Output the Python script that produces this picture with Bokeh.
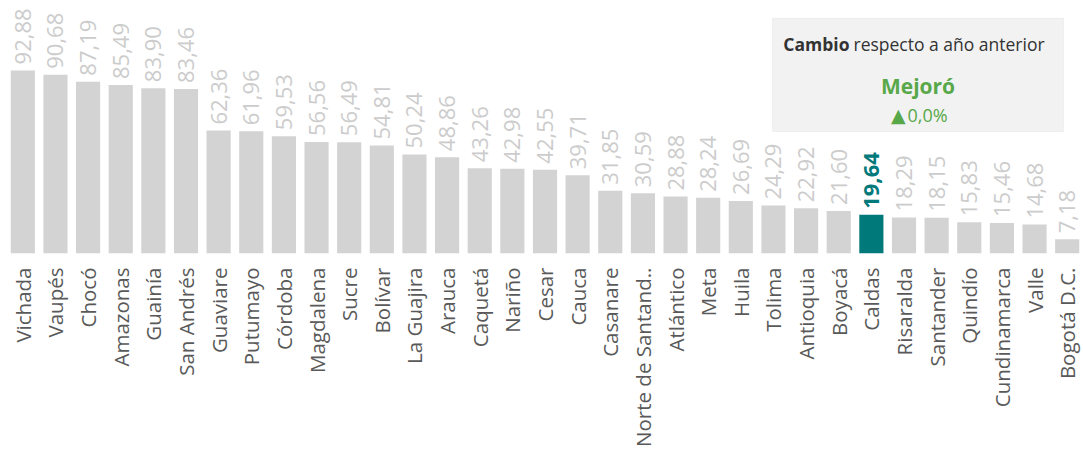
from math import pi
from bokeh.plotting import figure
from bokeh.models import ColumnDataSource, FactorRange, Range1d, BoxAnnotation, Label
from bokeh.core.properties import value
from bokeh.embed import file_html
from bokeh.resources import INLINE

departamentos = ["Vichada", "Vaupés", "Chocó", "Amazonas", "Guainía", "San Andrés",
                 "Guaviare", "Putumayo", "Córdoba", "Magdalena", "Sucre", "Bolívar",
                 "La Guajira", "Arauca", "Caquetá", "Nariño", "Cesar", "Cauca",
                 "Casanare", "Norte de Santand..", "Atlántico", "Meta", "Huila", "Tolima",
                 "Antioquia", "Boyacá", "Caldas", "Risaralda", "Santander", "Quindío",
                 "Cundinamarca", "Valle", "Bogotá D.C."]
valores = [92.88, 90.68, 87.19, 85.49, 83.90, 83.46, 62.36, 61.96, 59.53, 56.56,
           56.49, 54.81, 50.24, 48.86, 43.26, 42.98, 42.55, 39.71, 31.85, 30.59,
           28.88, 28.24, 26.69, 24.29, 22.92, 21.60, 19.64, 18.29, 18.15, 15.83,
           15.46, 14.68, 7.18]
destacado = "Caldas"
titulo_negrita = "Cambio"
titulo_resto = "respecto a año anterior"
estado = "Mejoró"
flecha = "▲"
cambio = "0,0%"

GRAY = "#D3D3D3"
TEAL = "#00797B"
GREEN = "#58A84A"

others = [(d, v) for d, v in zip(departamentos, valores) if d != destacado]
hi = [(d, v) for d, v in zip(departamentos, valores) if d == destacado]

src_o = ColumnDataSource(dict(x=[d for d, _ in others], top=[v for _, v in others],
                              lab=[f"{v:.2f}".replace(".", ",") for _, v in others]))
src_h = ColumnDataSource(dict(x=[d for d, _ in hi], top=[v for _, v in hi],
                              lab=[f"{v:.2f}".replace(".", ",") for _, v in hi]))

W, H = 1083, 449
LEFT, TOP, BOTTOM_Y = 6, 8, 257
frame_w = W - LEFT
frame_h = BOTTOM_Y - TOP
YMAX = 124.3

p = figure(width=W, height=H, x_range=FactorRange(*departamentos, range_padding=0),
           y_range=Range1d(0, YMAX), output_backend="svg", toolbar_location=None,
           y_axis_location=None, min_border_left=LEFT, min_border_right=0,
           min_border_top=TOP, min_border_bottom=H - BOTTOM_Y)
p.outline_line_color = None
p.xgrid.grid_line_color = None
p.ygrid.grid_line_color = None
p.background_fill_color = "white"
p.border_fill_color = "white"

p.vbar(x="x", top="top", width=0.74, source=src_o, color=GRAY, line_color=None)
p.vbar(x="x", top="top", width=0.74, source=src_h, color=TEAL, line_color=None)

p.text(x="x", y="top", text="lab", source=src_o, angle=pi / 2, text_align="left",
       text_baseline="middle", y_offset=-6, text_color="#CCCCCC",
       text_font=value("Open Sans"), text_font_size="22px")
p.text(x="x", y="top", text="lab", source=src_h, angle=pi / 2, text_align="left",
       text_baseline="middle", y_offset=-6, text_color=TEAL,
       text_font=value("Open Sans"), text_font_size="22px", text_font_style="bold")

ax = p.xaxis[0]
ax.axis_line_color = None
ax.major_tick_line_color = None
ax.minor_tick_line_color = None
ax.major_label_orientation = pi / 2
ax.major_label_standoff = 8
ax.major_label_text_font = "Open Sans"
ax.major_label_text_font_size = "20.5px"
ax.major_label_text_color = "#595959"

pitch = frame_w / len(departamentos)
def xd(absx):
    return (absx - LEFT) / pitch
def yd(absy):
    return (BOTTOM_Y - absy) / (frame_h / YMAX)

p.add_layout(BoxAnnotation(left=xd(772), right=xd(1063), top=yd(18), bottom=yd(133),
                           fill_color="#F2F2F2", fill_alpha=1.0,
                           line_color="#D9D9D9", line_width=1))
p.add_layout(Label(x=xd(849), y=yd(44), text=titulo_negrita, text_align="right",
                   text_baseline="middle", text_font="Open Sans", text_font_size="17.5px",
                   text_font_style="bold", text_color="#333333"))
p.add_layout(Label(x=xd(853), y=yd(44), text=titulo_resto, text_align="left",
                   text_baseline="middle", text_font="Open Sans", text_font_size="17.5px",
                   text_color="#333333"))
p.add_layout(Label(x=xd(917.5), y=yd(87), text=estado, text_align="center",
                   text_baseline="middle", text_font="Open Sans", text_font_size="21px",
                   text_font_style="bold", text_color=GREEN))
p.add_layout(Label(x=xd(905), y=yd(116), text=flecha, text_align="right",
                   text_baseline="middle", text_font="DejaVu Sans", text_font_size="19px",
                   text_color=GREEN))
p.add_layout(Label(x=xd(907), y=yd(116), text=cambio, text_align="left",
                   text_baseline="middle", text_font="Open Sans", text_font_size="18px",
                   text_color=GREEN))

open("out.html", "w").write(file_html(p, INLINE))
